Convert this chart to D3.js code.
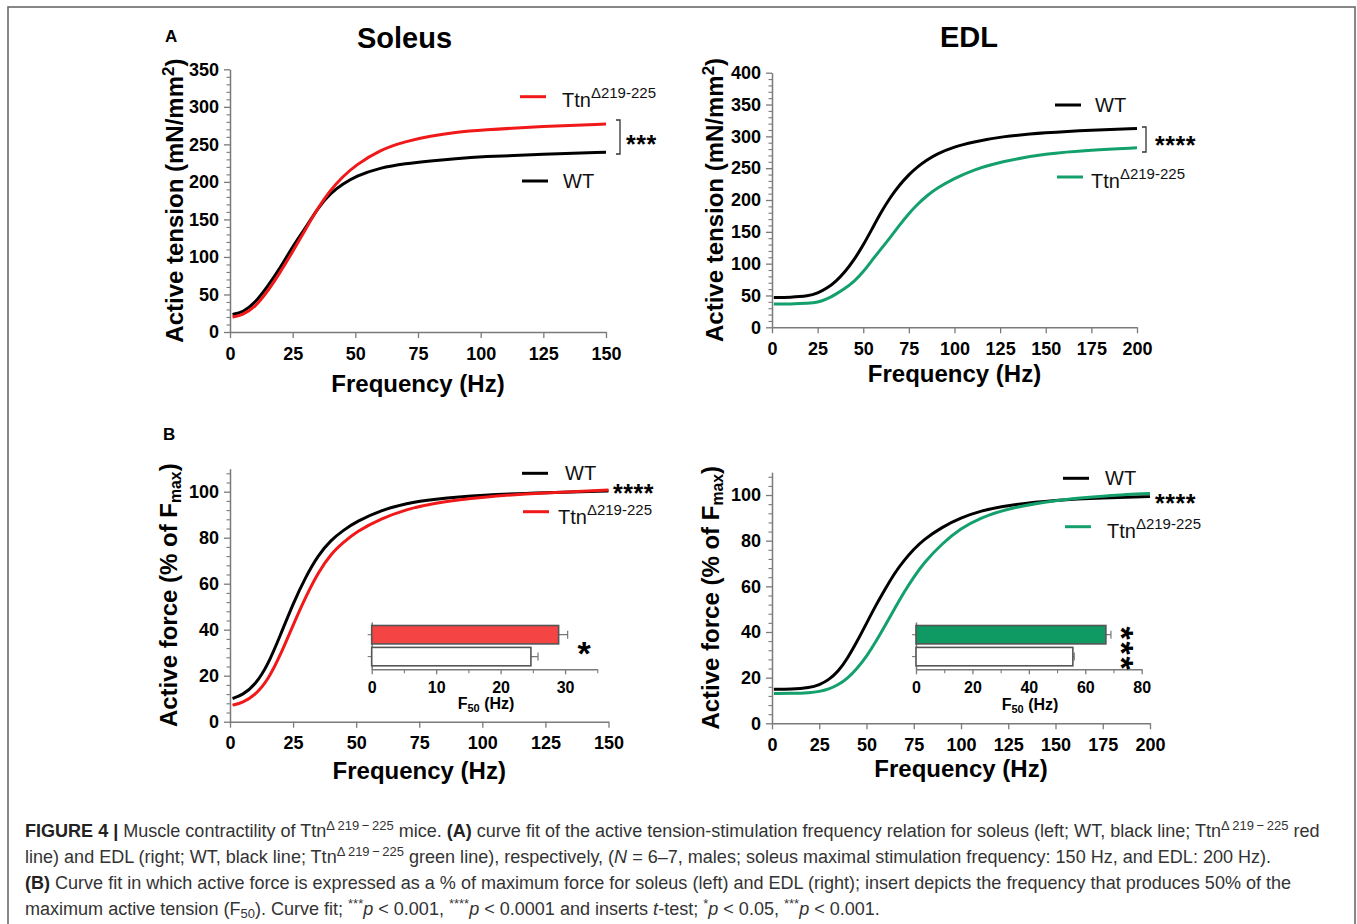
<!DOCTYPE html>
<html><head><meta charset="utf-8">
<script src="https://cdn.jsdelivr.net/npm/d3@7"></script>
<style>
body{margin:0;background:#fff}
svg{display:block}
text{font-family:"Liberation Sans",Arial,sans-serif}
</style>
</head><body>
<svg id="c" width="1357" height="924"></svg>
<script>
// ---------------- DATA ----------------
// Panel A, Soleus: active tension (mN/mm^2) vs frequency (Hz)
const soleusFreqA = [1,5,10,15,20,25,30,35,40,45,50,60,70,80,90,100,125,150];
const soleusWT_A  = [23.5,26,38.6,60.8,85,114,138,165,185,197,207.5,219,224.5,228,231,233.5,237,239.5];
const soleusTtn_A = [20,22.6,33,54,79.4,107,136,165,189,207,222,243,254,261,266,269,274,277];
// Panel A, EDL
const edlFreqA = [1,10,20,25,30,35,40,45,50,55,60,65,70,75,80,85,90,100,110,125,150,175,200];
const edlWT_A  = [47,47,49,53.4,61,72,87,106,129,155.5,182,205,224,240,253,263,272,284,291,299.5,306,310,312.5];
const edlTtn_A = [36.6,36.6,37.7,39,44,52,61,72,87,106,124,142,161,179,194,207,218,234,247,260,273,278.5,282];
// Panel B, Soleus: active force (% of Fmax)
const soleusFreqB = [1,5,10,15,20,25,30,35,40,45,50,60,70,80,100,125,150];
const soleusWT_B  = [10.1,11.6,16,24.6,37.7,51.4,63,72.5,79,83.3,87,92,95,96.7,98.6,99.6,100.3];
const soleusTtn_B = [7.2,8.3,11.6,18,29,42,54.3,65,73,78,82.6,88.4,92.3,95,97.8,99.6,100.7];
// Panel B, EDL
const edlFreqB = [1,10,20,25,30,35,40,45,50,55,60,65,70,75,80,90,100,110,125,150,175,200];
const edlWT_B  = [14.9,14.9,15.6,16.8,19,22.6,28.5,35.8,43.8,51.8,59,66,71.5,76.2,80.3,86,90,93,95.6,97.8,98.8,99.3];
const edlTtn_B = [13.1,13.1,13.4,13.9,14.9,16.8,19.7,24,29.2,35.8,43,50.4,57.7,64,70,78.8,85.4,90,94.2,97.8,99.6,100.7];
// Insets: F50 (Hz)
const insetGroups = ["Ttn","WT"];
const soleusF50 = [29.0, 24.7];
const soleusF50err = [1.4, 1.1];
const edlF50 = [67.3, 55.6];
const edlF50err = [1.8, 0.5];
// Tick values
const soleusXTicks = [0,25,50,75,100,125,150];
const edlXTicks = [0,25,50,75,100,125,150,175,200];
const soleusYTicksA = [0,50,100,150,200,250,300,350];
const edlYTicksA = [0,50,100,150,200,250,300,350,400];
const percentYTicks = [0,20,40,60,80,100];
const soleusInsetTicks = [0,10,20,30];
const edlInsetTicks = [0,20,40,60,80];

// ---------------- STYLE ----------------
const AX = "#7a7a7a";
const RED = "#f01818";
const GREEN = "#13a06c";
const svg = d3.select("#c");

// frame
svg.append("rect").attr("x",8).attr("y",7).attr("width",1347).attr("height",940)
  .attr("fill","none").attr("stroke","#6a6a6a").attr("stroke-width",1.6);

function range(a,b,s){const r=[];for(let v=a;v<=b+1e-9;v+=s)r.push(+v.toFixed(6));return r;}

function styleAxis(g, fs){
  g.select(".domain").attr("stroke",AX).attr("stroke-width",1.5);
  g.selectAll(".tick line").attr("stroke",AX).attr("stroke-width",1.3);
  g.selectAll(".tick text").attr("fill","#000").attr("font-weight","bold").attr("font-size",fs)
    .attr("font-family","'Liberation Sans',Arial,sans-serif");
}

function panel(c){
  const x = d3.scaleLinear().domain(c.xDomain).range([c.left,c.right]);
  const y = d3.scaleLinear().domain(c.yDomain).range([c.bottom,c.top]);
  // minor y ticks
  const gm = svg.append("g").attr("transform",`translate(${c.left},0)`)
    .call(d3.axisLeft(y).tickValues(range(c.yDomain[0],c.yDomain[1],c.yMinor).filter(v=>!c.yTicks.includes(v)))
      .tickSize(3.5).tickSizeOuter(0).tickFormat(""));
  gm.select(".domain").remove();
  gm.selectAll(".tick line").attr("stroke",AX).attr("stroke-width",1.1);
  const gy = svg.append("g").attr("transform",`translate(${c.left},0)`)
    .call(d3.axisLeft(y).tickValues(c.yTicks).tickSize(6).tickSizeOuter(0).tickPadding(5).tickFormat(d3.format("d")));
  styleAxis(gy,18);
  const gx = svg.append("g").attr("transform",`translate(0,${c.bottom})`)
    .call(d3.axisBottom(x).tickValues(c.xTicks).tickSize(6).tickSizeOuter(0).tickPadding(9).tickFormat(d3.format("d")));
  styleAxis(gx,18);
  // curves
  const line = d3.line().x(d=>x(d[0])).y(d=>y(d[1])).curve(d3.curveBasis);
  c.series.forEach(s=>{
    svg.append("path").datum(c.freq.map((f,i)=>[f,s.values[i]]))
      .attr("d",line).attr("fill","none").attr("stroke",s.color).attr("stroke-width",3);
  });
  // axis titles
  svg.append("text").attr("x",(c.left+c.right)/2).attr("y",c.xTitleY).attr("text-anchor","middle")
    .attr("font-weight","bold").attr("font-size",24).text("Frequency (Hz)");
  const yt = svg.append("text").attr("transform",`translate(${c.yTitleX},${(c.top+c.bottom)/2}) rotate(-90)`)
    .attr("text-anchor","middle").attr("font-weight","bold").attr("font-size",24);
  c.yTitle.forEach(p=>{
    const t = yt.append("tspan").text(p.t);
    if(p.sup) t.attr("baseline-shift","super").style("font-size","70%");
    if(p.sub) t.attr("baseline-shift","-4").style("font-size","66%");
  });
  // legend
  c.legend.forEach(l=>{
    svg.append("line").attr("x1",l.lx).attr("x2",l.lx+26).attr("y1",l.ly).attr("y2",l.ly)
      .attr("stroke",l.color).attr("stroke-width",3);
    const t = svg.append("text").attr("x",l.tx).attr("y",l.ty).attr("font-size",20).attr("fill","#111");
    t.append("tspan").text(l.name);
    if(l.sup) t.append("tspan").attr("baseline-shift","9").style("font-size","15px").text(l.sup);
  });
  // significance
  if(c.bracket){
    const b=c.bracket;
    svg.append("path").attr("d",`M${b.x-4},${b.y1}H${b.x}V${b.y2}H${b.x-4}`)
      .attr("fill","none").attr("stroke","#333").attr("stroke-width",1.3);
  }
  svg.append("text").attr("x",c.stars.x).attr("y",c.stars.y).attr("font-size",25).attr("font-weight","bold")
    .attr("letter-spacing",0.5).text(c.stars.t);
  return {x,y};
}

function inset(c){
  const x = d3.scaleLinear().domain(c.xDomain).range([c.left,c.right]);
  const y = d3.scaleBand().domain(insetGroups).range([c.top,c.bottom]).paddingInner(0.16).paddingOuter(0.16);
  const gm = svg.append("g").attr("transform",`translate(0,${c.bottom})`)
    .call(d3.axisBottom(x).tickValues(range(c.xDomain[0],c.xDomain[1],c.minor).filter(v=>!c.ticks.includes(v)))
      .tickSize(4).tickSizeOuter(0).tickFormat(""));
  gm.select(".domain").remove();
  gm.selectAll(".tick line").attr("stroke",AX).attr("stroke-width",1.1);
  const gx = svg.append("g").attr("transform",`translate(0,${c.bottom})`)
    .call(d3.axisBottom(x).tickValues(c.ticks).tickSize(5).tickSizeOuter(0).tickPadding(7).tickFormat(d3.format("d")));
  styleAxis(gx,16);
  const gy = svg.append("g").attr("transform",`translate(${c.left},0)`)
    .call(d3.axisLeft(y).tickSize(4).tickSizeOuter(0).tickFormat(""));
  gy.select(".domain").attr("stroke",AX).attr("stroke-width",1.5);
  gy.selectAll(".tick line").attr("stroke",AX).attr("stroke-width",1.1);
  // error bars
  insetGroups.forEach((g,i)=>{
    const yc = y(g)+y.bandwidth()/2;
    const x1 = x(c.values[i]), x2 = x(c.values[i]+c.err[i]);
    svg.append("path").attr("d",`M${x1},${yc}H${x2}M${x2},${yc-4}V${yc+4}`)
      .attr("stroke","#777").attr("stroke-width",1.2).attr("fill","none");
  });
  svg.selectAll(null).data(insetGroups).enter().append("rect")
    .attr("x",x(0)).attr("y",d=>y(d)).attr("height",y.bandwidth())
    .attr("width",(d,i)=>x(c.values[i])-x(0))
    .attr("fill",(d,i)=>i===0?c.color:"#fff").attr("stroke","#555").attr("stroke-width",1.6);
  const t = svg.append("text").attr("x",c.titleX).attr("y",c.titleY).attr("text-anchor","middle")
    .attr("font-weight","bold").attr("font-size",16);
  t.append("tspan").text("F");
  t.append("tspan").attr("baseline-shift","-3").style("font-size","11px").text("50");
  t.append("tspan").text(" (Hz)");
}

// Panel A - Soleus
panel({
  left:230,right:606,top:69.3,bottom:332,xDomain:[0,150],yDomain:[0,350],
  xTicks:soleusXTicks,yTicks:soleusYTicksA,yMinor:10,freq:soleusFreqA,
  series:[{values:soleusWT_A,color:"#000"},{values:soleusTtn_A,color:RED}],
  xTitleY:392,yTitleX:183,
  yTitle:[{t:"Active tension (mN/mm"},{t:"2",sup:true},{t:")"}],
  legend:[{lx:520,ly:96.7,tx:562,ty:107,color:RED,name:"Ttn",sup:"Δ219-225"},
          {lx:522,ly:181,tx:563,ty:188,color:"#000",name:"WT"}],
  bracket:{x:620,y1:120,y2:154},
  stars:{x:626,y:152.5,t:"***"}
});
// Panel A - EDL
panel({
  left:772,right:1137,top:72.7,bottom:327.3,xDomain:[0,200],yDomain:[0,400],
  xTicks:edlXTicks,yTicks:edlYTicksA,yMinor:10,freq:edlFreqA,
  series:[{values:edlWT_A,color:"#000"},{values:edlTtn_A,color:GREEN}],
  xTitleY:382,yTitleX:723,
  yTitle:[{t:"Active tension (mN/mm"},{t:"2",sup:true},{t:")"}],
  legend:[{lx:1055,ly:105,tx:1095,ty:112,color:"#000",name:"WT"},
          {lx:1057,ly:177,tx:1091,ty:188,color:GREEN,name:"Ttn",sup:"Δ219-225"}],
  bracket:{x:1146,y1:127,y2:152},
  stars:{x:1155,y:153.5,t:"****"}
});
// Panel B - Soleus
panel({
  left:230,right:608.5,top:468.7,bottom:721.7,xDomain:[0,150],yDomain:[0,110],
  xTicks:soleusXTicks,yTicks:percentYTicks,yMinor:4,freq:soleusFreqB,
  series:[{values:soleusWT_B,color:"#000"},{values:soleusTtn_B,color:RED}],
  xTitleY:778.5,yTitleX:177,
  yTitle:[{t:"Active force (% of F"},{t:"max",sub:true},{t:")"}],
  legend:[{lx:522,ly:473.3,tx:565,ty:480,color:"#000",name:"WT"},
          {lx:523,ly:511.7,tx:558,ty:523.5,color:RED,name:"Ttn",sup:"Δ219-225"}],
  stars:{x:613,y:501.5,t:"****"}
});
// Panel B - EDL
panel({
  left:772,right:1150,top:472.2,bottom:723.3,xDomain:[0,200],yDomain:[0,110],
  xTicks:edlXTicks,yTicks:percentYTicks,yMinor:4,freq:edlFreqB,
  series:[{values:edlWT_B,color:"#000"},{values:edlTtn_B,color:GREEN}],
  xTitleY:777,yTitleX:719,
  yTitle:[{t:"Active force (% of F"},{t:"max",sub:true},{t:")"}],
  legend:[{lx:1063,ly:478.3,tx:1105,ty:485,color:"#000",name:"WT"},
          {lx:1065,ly:526.7,tx:1107,ty:537.5,color:GREEN,name:"Ttn",sup:"Δ219-225"}],
  stars:{x:1155,y:512,t:"****"}
});

// Insets
inset({left:371.7,right:597.3,top:622,bottom:669.3,xDomain:[0,35],ticks:soleusInsetTicks,minor:5,
  values:soleusF50,err:soleusF50err,color:"#f54444",titleX:486,titleY:709});
svg.append("text").attr("x",584).attr("y",665).attr("text-anchor","middle").attr("font-size",34)
  .attr("font-weight","bold").text("*");
inset({left:916,right:1141.7,top:622,bottom:669.3,xDomain:[0,80],ticks:edlInsetTicks,minor:10,
  values:edlF50,err:edlF50err,color:"#0f9a63",titleX:1030,titleY:710});
svg.append("text").attr("transform","translate(1110,649) rotate(90)").attr("text-anchor","middle")
  .attr("font-size",34).attr("font-weight","bold").attr("letter-spacing",1.8).text("***");

// Panel letters & titles
svg.append("text").attr("x",165).attr("y",42).attr("font-weight","bold").attr("font-size",17).text("A");
svg.append("text").attr("x",163).attr("y",440).attr("font-weight","bold").attr("font-size",17).text("B");
svg.append("text").attr("x",404.5).attr("y",48).attr("text-anchor","middle").attr("font-weight","bold").attr("font-size",29).text("Soleus");
svg.append("text").attr("x",969).attr("y",47).attr("text-anchor","middle").attr("font-weight","bold").attr("font-size",29).text("EDL");

// Caption
const D = "Δ\u2009219\u2009−\u2009225";
const captionLines = [
  [{t:"FIGURE 4 |",b:1},{t:" Muscle contractility of Ttn"},{t:D,sup:1},{t:" mice. "},{t:"(A)",b:1},
   {t:" curve fit of the active tension-stimulation frequency relation for soleus (left; WT, black line; Ttn"},{t:D,sup:1},{t:" red"}],
  [{t:"line) and EDL (right; WT, black line; Ttn"},{t:D,sup:1},{t:" green line), respectively, ("},{t:"N",i:1},
   {t:" = 6–7, males; soleus maximal stimulation frequency: 150 Hz, and EDL: 200 Hz)."}],
  [{t:"(B)",b:1},{t:" Curve fit in which active force is expressed as a % of maximum force for soleus (left) and EDL (right); insert depicts the frequency that produces 50% of the"}],
  [{t:"maximum active tension (F"},{t:"50",sub:1},{t:"). Curve fit; "},{t:"***",sup:1},{t:"p",i:1},{t:" < 0.001, "},{t:"****",sup:1},{t:"p",i:1},
   {t:" < 0.0001 and inserts "},{t:"t",i:1},{t:"-test; "},{t:"*",sup:1},{t:"p",i:1},{t:" < 0.05, "},{t:"***",sup:1},{t:"p",i:1},{t:" < 0.001."}]
];
const capBase = [837,863,889,914.5];
const capG = svg.append("g").attr("fill","#333").style("font-size","17px");
const capTexts = captionLines.map((segs,k)=>{
  const t = capG.append("text").attr("x",25).attr("y",capBase[k]);
  segs.forEach(s=>{
    const ts = t.append("tspan").text(s.t);
    if(s.b) ts.attr("font-weight","bold").attr("fill","#222");
    if(s.i) ts.attr("font-style","italic");
    if(s.sup) ts.attr("baseline-shift","super").style("font-size","72%");
    if(s.sub) ts.attr("baseline-shift","-3").style("font-size","72%");
  });
  return t;
});
const w3 = capTexts[2].node().getComputedTextLength();
capG.style("font-size",(17*1267/w3).toFixed(2)+"px");
</script>
</body></html>
